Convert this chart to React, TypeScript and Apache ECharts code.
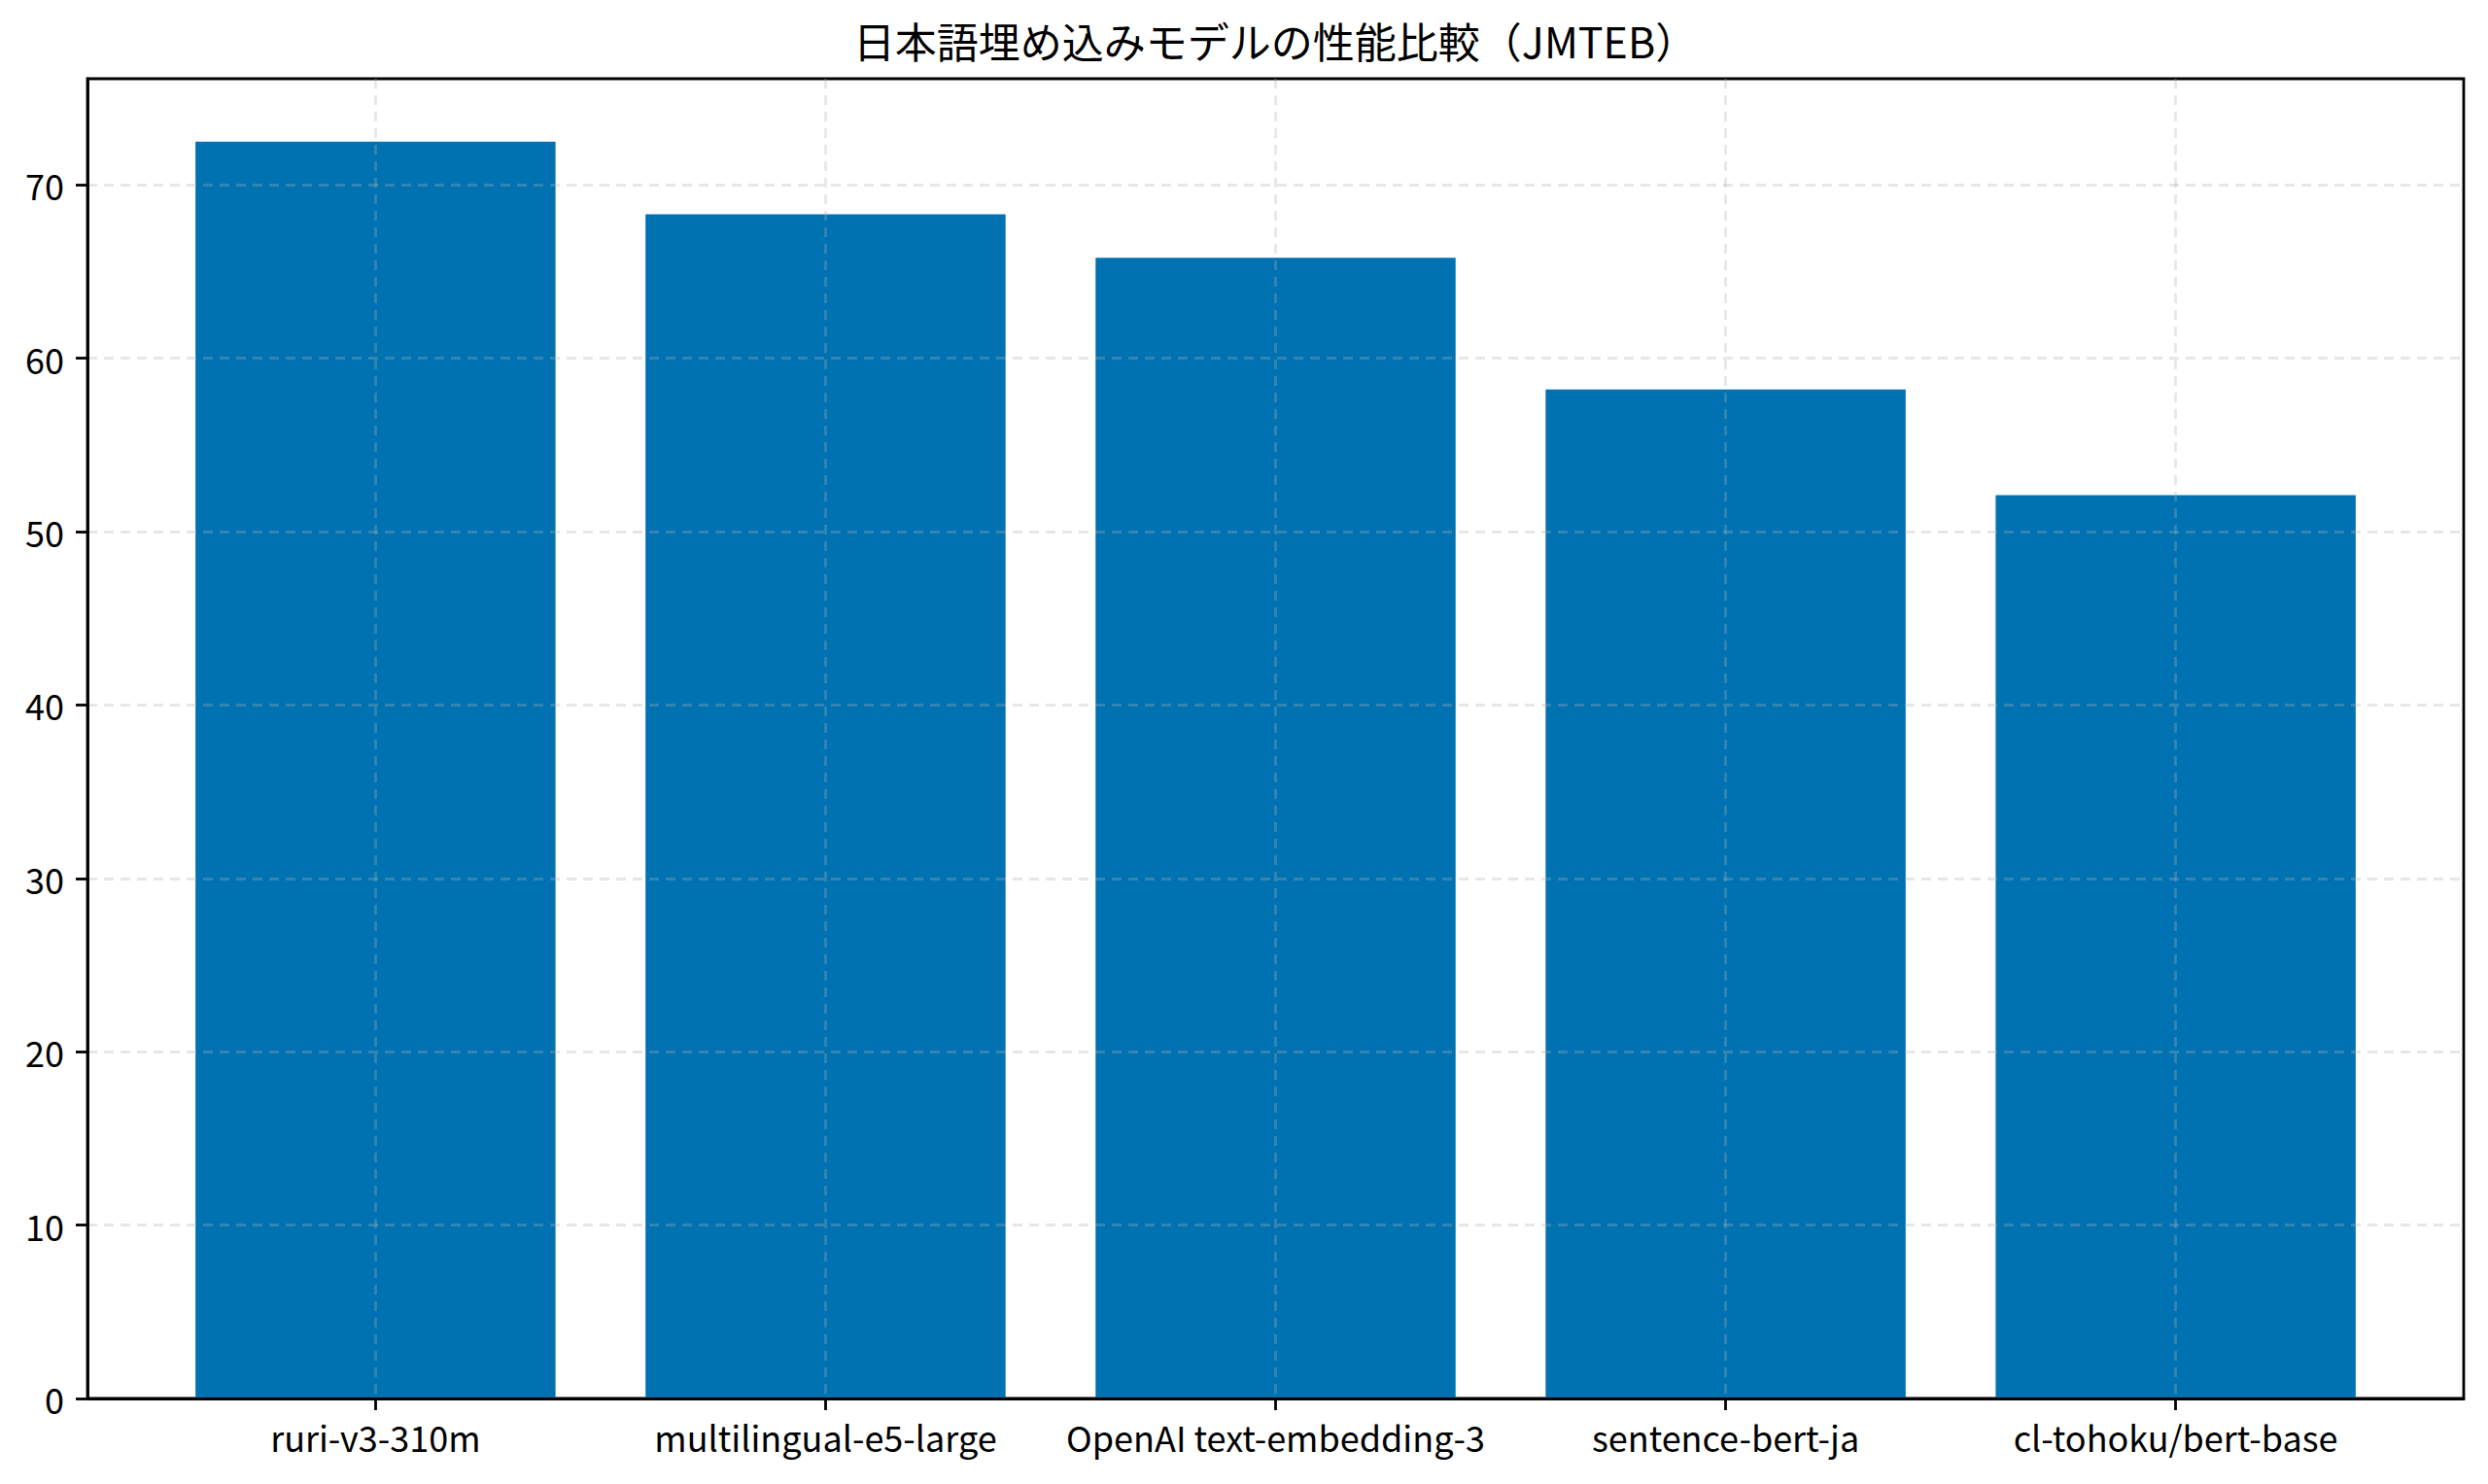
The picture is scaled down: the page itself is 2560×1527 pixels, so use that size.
import { useEffect, useRef } from "react";
import * as echarts from "echarts";

const TITLE = "日本語埋め込みモデルの性能比較（JMTEB）";

const models = [
  "ruri-v3-310m",
  "multilingual-e5-large",
  "OpenAI text-embedding-3",
  "sentence-bert-ja",
  "cl-tohoku/bert-base",
];

const scores = [72.5, 68.3, 65.8, 58.2, 52.1];

const yTicks = [0, 10, 20, 30, 40, 50, 60, 70];

const FONT = "'Noto Sans CJK JP', 'Noto Sans', sans-serif";
const BAR_COLOR = "#0072B2";
const GRID_COLOR = "rgba(176,176,176,0.3)";
const LW = 2.8;

function App() {
  const chartRef = useRef<HTMLDivElement>(null);

  useEffect(() => {
    document.body.style.margin = "0";
    if (!chartRef.current) return;
    const chart = echarts.init(chartRef.current, null, { renderer: "svg" });

    // matplotlib-like auto limits: 5% margin on both axes
    const xPad = (models.length - 1 + 0.8) * 0.05;
    const xMin = -0.4 - xPad;
    const xMax = models.length - 1 + 0.4 + xPad;
    const yMax = Math.max(...scores) * 1.05;
    const catIdx = models.map((_, i) => i);

    const option = {
      animation: false,
      textStyle: { fontFamily: FONT },
      grid: {
        left: 90,
        right: 25,
        top: 81,
        bottom: 88,
        show: true,
        borderColor: "#000",
        borderWidth: LW,
        backgroundColor: "#fff",
      },
      graphic: [
        {
          type: "text",
          x: 1312,
          y: 41,
          style: {
            text: TITLE,
            fontFamily: FONT,
            fontSize: 43,
            fill: "#000",
            align: "center",
            verticalAlign: "middle",
          },
        },
      ],
      xAxis: {
        type: "value",
        min: xMin,
        max: xMax,
        z: 3,
        axisLine: { show: true, onZero: false, lineStyle: { color: "#000", width: LW } },
        axisTick: {
          show: true,
          customValues: catIdx,
          length: 12,
          lineStyle: { color: "#000", width: LW },
        },
        axisLabel: {
          customValues: catIdx,
          margin: 21,
          fontSize: 36,
          color: "#000",
          fontFamily: FONT,
          formatter: (v: number) => models[Math.round(v)] ?? "",
        },
        splitLine: {
          show: true,
          lineStyle: { color: GRID_COLOR, width: LW, type: [10, 7] },
        },
      },
      yAxis: {
        type: "value",
        min: 0,
        max: yMax,
        interval: 10,
        z: 3,
        axisLine: { show: true, onZero: false, lineStyle: { color: "#000", width: LW } },
        axisTick: {
          show: true,
          customValues: yTicks,
          length: 12,
          lineStyle: { color: "#000", width: LW },
        },
        axisLabel: {
          customValues: yTicks,
          margin: 24,
          fontSize: 36,
          color: "#000",
          fontFamily: FONT,
        },
        splitLine: {
          show: true,
          lineStyle: { color: GRID_COLOR, width: LW, type: [10, 7] },
        },
      },
      series: [
        {
          type: "bar",
          data: scores.map((v, i) => [i, v]),
          barWidth: "80%",
          itemStyle: { color: BAR_COLOR },
          z: 2,
        },
      ],
    };

    chart.setOption(option);

    return () => {
      chart.dispose();
    };
  }, []);

  return <div ref={chartRef} style={{ width: "2560px", height: "1527px" }} />;
}

export default App;
